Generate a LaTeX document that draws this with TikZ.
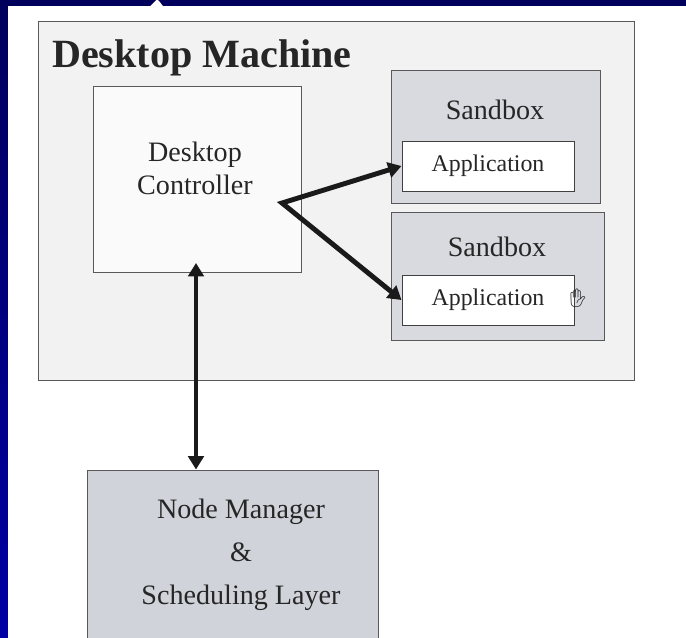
\documentclass[tikz,border=0pt]{standalone}
\usepackage{fontspec}
\setmainfont{Liberation Serif}
\newfontfamily\emojifont{Noto Emoji}
\usetikzlibrary{arrows.meta}

\definecolor{navytop}{HTML}{00005C}
\definecolor{navybot}{HTML}{0000A4}
\definecolor{machinefill}{HTML}{F2F2F2}
\definecolor{ctrlfill}{HTML}{FAFAFA}
\definecolor{sandfill}{HTML}{D9DAE0}
\definecolor{mgrfill}{HTML}{D0D3D9}
\definecolor{linkcol}{HTML}{1A1A1A}

\begin{document}
\begin{tikzpicture}[box/.style={rectangle, draw=black!65, line width=0.7pt, inner sep=0pt}, txt/.style={inner sep=0pt, align=center, text=black!85}, link/.style={draw=linkcol, line width=3.5pt, >={Triangle[length=9.5pt,width=11pt]}}]
			\useasboundingbox (0,0) rectangle (17.15,-15.925);
			\shade[top color=navytop, bottom color=navybot] (0,0) rectangle (17.15,-15.925);
			\fill[white] (0.2,-0.15) rectangle (17.5,-16.3);
			\fill[white] (3.75,-0.16) -- (3.88,-0.03) -- (3.93,0.02) -- (3.98,-0.03) -- (4.08,-0.16) -- cycle;
			
			\node[box, fill=machinefill, minimum width=14.9cm, minimum height=8.975cm] (machine) at (8.4,-5.0125){};
			\node[box, fill=ctrlfill, minimum width=5.2cm, minimum height=4.65cm] (ctrl) at (4.925,-4.475){};
			\node[box, fill=sandfill, minimum width=5.225cm, minimum height=3.325cm] (sandA) at (12.3875,-3.4125){};
			\node[box, fill=sandfill, minimum width=5.325cm, minimum height=3.2cm] (sandB) at (12.4375,-6.9){};
			\node[box, fill=white, draw=black!75, minimum width=4.3cm, minimum height=1.25cm, font=\fontsize{17}{20}\selectfont, text=black!85] (appA) at (12.2,-4.15){Application};
			\node[box, fill=white, draw=black!75, minimum width=4.3cm, minimum height=1.25cm, font=\fontsize{17}{20}\selectfont, text=black!85] (appB) at (12.2,-7.5){Application};
			\node[box, fill=mgrfill, minimum width=7.275cm, minimum height=5.25cm] (mgr) at (5.8125,-14.375){};
			
			\node[txt, font=\bfseries\fontsize{28.5}{30}\selectfont, anchor=base west] (title) at (1.3,-1.675){Desktop Machine};
			\node[txt, font=\fontsize{20}{23.5}\selectfont] (ctrltext) at (4.875,-4.2){Desktop\\Controller};
			\node[txt, font=\fontsize{20}{24}\selectfont] (sandAtext) at (12.375,-2.75){Sandbox};
			\node[txt, font=\fontsize{20}{24}\selectfont] (sandBtext) at (12.425,-6.175){Sandbox};
			\node[txt, font=\fontsize{20}{30.6}\selectfont] (mgrtext) at (6.025,-13.875){Node Manager\\\&\\Scheduling Layer};
			\node[txt, font=\emojifont\fontsize{13}{13}\selectfont] (hand) at (14.45,-7.45){✋};
			
			\coordinate (fork) at (7.05,-5.075);
			\coordinate (ctrlin) at (4.9,-6.575);
			
			\draw[link, <->] (appA.west) -- (fork) -- (appB.west);
			\draw[link, <->] (ctrlin) -- (ctrlin |- mgr.north);
			\end{tikzpicture}
\end{document}
